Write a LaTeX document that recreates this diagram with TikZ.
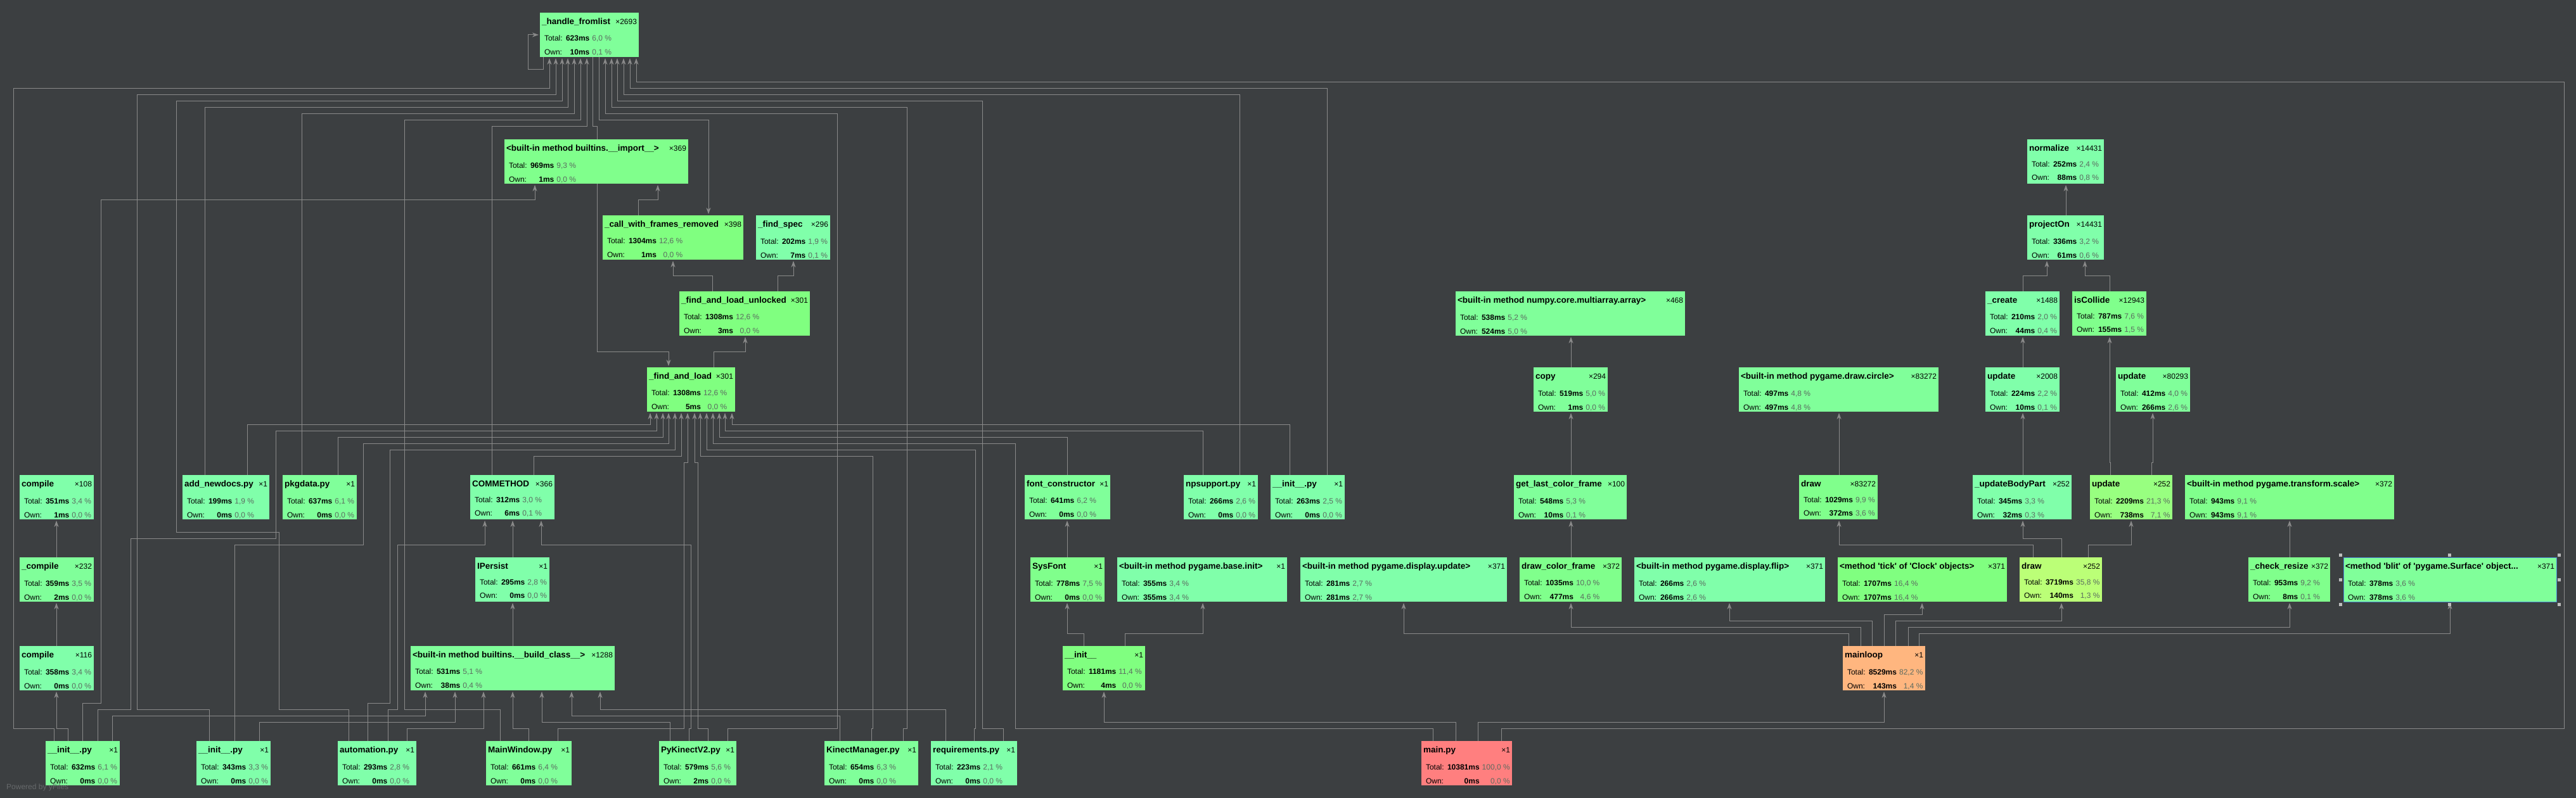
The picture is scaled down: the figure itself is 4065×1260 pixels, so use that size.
\documentclass[tikz,border=0pt]{standalone}
\usepackage{fontspec}
\setmainfont{Liberation Sans}
\usetikzlibrary{arrows.meta}
\definecolor{bgc}{HTML}{3C3F41}
\definecolor{wirec}{HTML}{8A8A8A}
\definecolor{pct}{HTML}{5B6B60}
\definecolor{gA}{HTML}{80FFAA}
\definecolor{gB}{HTML}{80FF9A}
\definecolor{gC}{HTML}{80FF8C}
\definecolor{gD}{HTML}{80FF80}
\definecolor{gE}{HTML}{98FF80}
\definecolor{gF}{HTML}{BBFF77}
\definecolor{hot}{HTML}{FFB67F}
\definecolor{root}{HTML}{FF7F7F}
\definecolor{selc}{HTML}{4A88D0}
\definecolor{handlec}{HTML}{BDBDBD}
\definecolor{markc}{HTML}{66696B}
\pgfdeclarelayer{canvas}
\pgfdeclarelayer{wires}
\pgfsetlayers{canvas,wires,main}

\newlength\vw \newlength\vwb \newlength\pw \newlength\pwb
\newcommand\titlef{\fontsize{13.5}{16}\selectfont\bfseries}
\newcommand\countf{\fontsize{12}{14}\selectfont}
\newcommand\statf{\fontsize{12}{14}\selectfont}
\newcommand\q{\textquotesingle}
% width, name, calls, total, total %, own, own %
\newcommand\fnbox[7]{%
  \settowidth\vw{\statf\bfseries #4ms}\settowidth\vwb{\statf\bfseries #6ms}%
  \ifdim\vwb>\vw \vw=\vwb\fi
  \settowidth\pw{\statf #5 \%}\settowidth\pwb{\statf #7 \%}%
  \ifdim\pwb>\pw \pw=\pwb\fi
  \vbox to 70pt{\offinterlineskip\hsize=#1pt
    \hbox to #1pt{\hspace{3pt}\rule{0pt}{18.5pt}{\titlef #2}\hfill{\countf ×#3}\hspace{3pt}}%
    \hbox{\hspace{7pt}\rule{0pt}{24.5pt}\statf\makebox[34pt][l]{Total:}\makebox[\vw][r]{\bfseries #4ms}\hspace{4pt}\makebox[\pw][r]{\color{pct}#5 \%}}%
    \hbox{\hspace{7pt}\rule[-7pt]{0pt}{27pt}\statf\makebox[34pt][l]{Own:}\makebox[\vw][r]{\bfseries #6ms}\hspace{4pt}\makebox[\pw][r]{\color{pct}#7 \%}}%
    \vss}}
\newcommand\call[5]{\draw[calls] (#1.north -| #2,0) -- (#2,#3) -- (#5,#3) -- (#4.south -| #5,0);}
\newcommand\callup[3]{\draw[calls] (#1.north -| #2,0) -- (#3.south -| #2,0);}

\begin{document}
\begin{tikzpicture}[x=1pt,y=-1pt,line join=round,
  fn/.style={anchor=north west,inner sep=0pt,outer sep=0pt,fill=#1},
  calls/.style={draw=wirec,line width=1pt,-{Stealth[length=10pt,width=7pt,inset=3pt]},shorten >=2pt}]
\begin{pgfonlayer}{canvas}
\fill[bgc] (0,0) rectangle (4065,1260);
\end{pgfonlayer}

\node[fn=gB] (hfl) at (852,20) {\fnbox{156}{\_handle\_fromlist}{2693}{623}{6,0}{10}{0,1}};
\node[fn=gC] (imp) at (796,220) {\fnbox{290}{<built-in method builtins.\_\_import\_\_>}{369}{969}{9,3}{1}{0,0}};
\node[fn=gD] (cwfr) at (951,340) {\fnbox{222}{\_call\_with\_frames\_removed}{398}{1304}{12,6}{1}{0,0}};
\node[fn=gA] (fspec) at (1193,340) {\fnbox{117}{\_find\_spec}{296}{202}{1,9}{7}{0,1}};
\node[fn=gD] (falu) at (1072,460) {\fnbox{206}{\_find\_and\_load\_unlocked}{301}{1308}{12,6}{3}{0,0}};
\node[fn=gD] (fal) at (1021,580) {\fnbox{139}{\_find\_and\_load}{301}{1308}{12,6}{5}{0,0}};
\node[fn=gA] (compileA) at (31,750) {\fnbox{117}{compile}{108}{351}{3,4}{1}{0,0}};
\node[fn=gA] (addnd) at (288,750) {\fnbox{137}{add\_newdocs.py}{1}{199}{1,9}{0}{0,0}};
\node[fn=gB] (pkg) at (446,750) {\fnbox{117}{pkgdata.py}{1}{637}{6,1}{0}{0,0}};
\node[fn=gA] (comm) at (742,750) {\fnbox{133}{COMMETHOD}{366}{312}{3,0}{6}{0,1}};
\node[fn=gB] (fontc) at (1617,750) {\fnbox{135}{font\_constructor}{1}{641}{6,2}{0}{0,0}};
\node[fn=gA] (nps) at (1868,750) {\fnbox{117}{npsupport.py}{1}{266}{2,6}{0}{0,0}};
\node[fn=gA] (init263) at (2005,750) {\fnbox{117}{\_\_init\_\_.py}{1}{263}{2,5}{0}{0,0}};
\node[fn=gB] (npa) at (2297,460) {\fnbox{362}{<built-in method numpy.core.multiarray.array>}{468}{538}{5,2}{524}{5,0}};
\node[fn=gB] (copy) at (2420,580) {\fnbox{117}{copy}{294}{519}{5,0}{1}{0,0}};
\node[fn=gB] (circle) at (2744,580) {\fnbox{315}{<built-in method pygame.draw.circle>}{83272}{497}{4,8}{497}{4,8}};
\node[fn=gB] (glcf) at (2389,750) {\fnbox{178}{get\_last\_color\_frame}{100}{548}{5,3}{10}{0,1}};
\node[fn=gC] (draw1) at (2839,750) {\fnbox{124}{draw}{83272}{1029}{9,9}{372}{3,6}};
\node[fn=gA] (normalize) at (3199,220) {\fnbox{121}{normalize}{14431}{252}{2,4}{88}{0,8}};
\node[fn=gA] (projon) at (3199,340) {\fnbox{121}{projectOn}{14431}{336}{3,2}{61}{0,6}};
\node[fn=gA] (create) at (3133,460) {\fnbox{117}{\_create}{1488}{210}{2,0}{44}{0,4}};
\node[fn=gC] (iscol) at (3270,460) {\fnbox{117}{isCollide}{12943}{787}{7,6}{155}{1,5}};
\node[fn=gA] (updA) at (3133,580) {\fnbox{117}{update}{2008}{224}{2,2}{10}{0,1}};
\node[fn=gB] (updB) at (3339,580) {\fnbox{117}{update}{80293}{412}{4,0}{266}{2,6}};
\node[fn=gA] (ubp) at (3113,750) {\fnbox{156}{\_updateBodyPart}{252}{345}{3,3}{32}{0,3}};
\node[fn=gE] (updC) at (3298,750) {\fnbox{130}{update}{252}{2209}{21,3}{738}{7,1}};
\node[fn=gC] (scale) at (3448,750) {\fnbox{330}{<built-in method pygame.transform.scale>}{372}{943}{9,1}{943}{9,1}};
\node[fn=gB] (compileB) at (31,880) {\fnbox{117}{\_compile}{232}{359}{3,5}{2}{0,0}};
\node[fn=gA] (compileC) at (31,1020) {\fnbox{117}{compile}{116}{358}{3,4}{0}{0,0}};
\node[fn=gA] (ipersist) at (750,880) {\fnbox{117}{IPersist}{1}{295}{2,8}{0}{0,0}};
\node[fn=gB] (bclass) at (648,1020) {\fnbox{322}{<built-in method builtins.\_\_build\_class\_\_>}{1288}{531}{5,1}{38}{0,4}};
\node[fn=gC] (sysfont) at (1626,880) {\fnbox{117}{SysFont}{1}{778}{7,5}{0}{0,0}};
\node[fn=gA] (pbinit) at (1763,880) {\fnbox{268}{<built-in method pygame.base.init>}{1}{355}{3,4}{355}{3,4}};
\node[fn=gA] (dupd) at (2052,880) {\fnbox{326}{<built-in method pygame.display.update>}{371}{281}{2,7}{281}{2,7}};
\node[fn=gC] (dcf) at (2398,880) {\fnbox{161}{draw\_color\_frame}{372}{1035}{10,0}{477}{4,6}};
\node[fn=gA] (flip) at (2579,880) {\fnbox{301}{<built-in method pygame.display.flip>}{371}{266}{2,6}{266}{2,6}};
\node[fn=gD] (tick) at (2900,880) {\fnbox{267}{<method \q tick\q{} of \q Clock\q{} objects>}{371}{1707}{16,4}{1707}{16,4}};
\node[fn=gF] (drawC) at (3187,880) {\fnbox{130}{draw}{252}{3719}{35,8}{140}{1,3}};
\node[fn=gC] (chk) at (3548,880) {\fnbox{129}{\_check\_resize}{372}{953}{9,2}{8}{0,1}};
\node[fn=gB,draw=selc,line width=1pt] (blit) at (3698,880) {\fnbox{336}{<method \q blit\q{} of \q pygame.Surface\q{} object...}{371}{378}{3,6}{378}{3,6}};
\node[fn=gD] (initA) at (1677,1020) {\fnbox{130}{\_\_init\_\_}{1}{1181}{11,4}{4}{0,0}};
\node[fn=hot] (mainloop) at (2908,1020) {\fnbox{130}{mainloop}{1}{8529}{82,2}{143}{1,4}};
\node[fn=gB] (init632) at (72,1170) {\fnbox{117}{\_\_init\_\_.py}{1}{632}{6,1}{0}{0,0}};
\node[fn=gA] (init343) at (310,1170) {\fnbox{117}{\_\_init\_\_.py}{1}{343}{3,3}{0}{0,0}};
\node[fn=gA] (autom) at (533,1170) {\fnbox{124}{automation.py}{1}{293}{2,8}{0}{0,0}};
\node[fn=gB] (mainw) at (767,1170) {\fnbox{135}{MainWindow.py}{1}{661}{6,4}{0}{0,0}};
\node[fn=gB] (pyk) at (1040,1170) {\fnbox{122}{PyKinectV2.py}{1}{579}{5,6}{2}{0,0}};
\node[fn=gB] (km) at (1301,1170) {\fnbox{148}{KinectManager.py}{1}{654}{6,3}{0}{0,0}};
\node[fn=gA] (req) at (1469,1170) {\fnbox{136}{requirements.py}{1}{223}{2,1}{0}{0,0}};
\node[fn=root] (mainpy) at (2243,1170) {\fnbox{143}{main.py}{1}{10381}{100,0}{0}{0,0}};
\node[anchor=west,inner sep=0pt,text=markc,font=\fontsize{12}{14}\selectfont] (yfiles) at (10,1243) {Powered by yFiles};

\foreach \hx/\hy in {3693/876,3865/876,4038/876,3693/915,4038/915,3693/954,3865/954,4038/954}
  \fill[handlec] (\hx-2.5,\hy-2.5) rectangle ++(5,5);

\begin{pgfonlayer}{wires}
\draw[calls] (hfl.south -| 857,0) -- (857,110) -- (833,110) -- (833,55) -- (hfl.west |- 0,55);
\draw[calls] (hfl.south -| 945,0) -- (945,190) -- (1118,190) -- (cwfr.north -| 1118,0);
\draw[calls] (hfl.south -| 935,0) -- (935,200) -- (942,200) -- (942,555) -- (1055,555) -- (fal.north -| 1055,0);
\call{fal}{1126}{555}{falu}{1176}
\call{falu}{1124}{435}{cwfr}{1062}
\call{falu}{1227}{435}{fspec}{1252}
\call{cwfr}{1007}{315}{imp}{1038}

\draw[calls] (init632.north -| 130,0) -- (130,1110) -- (159,1110) -- (159,315) -- (844,315) -- (imp.south -| 844,0);
\draw[calls] (init632.north -| 85,0) -- (85,1150) -- (21,1150) -- (21,140) -- (867,140) -- (hfl.south -| 867,0);
\call{init632}{107}{1150}{compileC}{89}
\draw[calls] (init632.north -| 154,0) -- (154,1120) -- (206,1120) -- (206,850) -- (435,850) -- (435,680) -- (1036,680) -- (fal.south -| 1036,0);
\call{init632}{177}{1130}{bclass}{671}
\callup{compileC}{89}{compileB}
\callup{compileB}{89}{compileA}

\draw[calls] (init343.north -| 330,0) -- (330,1120) -- (216,1120) -- (216,150) -- (877,150) -- (hfl.south -| 877,0);
\draw[calls] (init343.north -| 370,0) -- (370,860) -- (573,860) -- (573,700) -- (1055,700) -- (fal.south -| 1055,0);
\call{init343}{409}{1140}{bclass}{718}

\draw[calls] (autom.north -| 550,0) -- (550,1120) -- (440,1120) -- (440,840) -- (278,840) -- (278,160) -- (887,160) -- (hfl.south -| 887,0);
\draw[calls] (autom.north -| 580,0) -- (580,1110) -- (615,1110) -- (615,710) -- (1065,710) -- (fal.south -| 1065,0);
\draw[calls] (autom.north -| 612,0) -- (612,1120) -- (627,1120) -- (627,860) -- (765,860) -- (comm.south -| 765,0);
\call{autom}{642}{1150}{bclass}{763}

\call{addnd}{323}{170}{hfl}{896}
\call{addnd}{390}{670}{fal}{1026}
\call{pkg}{476}{180}{hfl}{906}
\call{pkg}{533}{690}{fal}{1046}
\call{comm}{776}{200}{hfl}{926}
\call{comm}{842}{720}{fal}{1075}
\callup{ipersist}{809}{comm}
\callup{bclass}{809}{ipersist}

\draw[calls] (mainw.north -| 789,0) -- (789,1120) -- (638,1120) -- (638,190) -- (916,190) -- (hfl.south -| 916,0);
\call{mainw}{834}{1150}{bclass}{809}
\draw[calls] (mainw.north -| 880,0) -- (880,1150) -- (1079,1150) -- (1079,730) -- (1085,730) -- (fal.south -| 1085,0);

\draw[calls] (pyk.north -| 1087,0) -- (1087,1150) -- (1090,1150) -- (1090,860) -- (854,860) -- (comm.south -| 854,0);
\call{pyk}{1057}{1140}{bclass}{855}
\draw[calls] (pyk.north -| 1117,0) -- (1117,1150) -- (1101,1150) -- (1101,730) -- (1096,730) -- (fal.south -| 1096,0);
\draw[calls] (pyk.north -| 1148,0) -- (1148,1150) -- (1321,1150) -- (1321,180) -- (955,180) -- (hfl.south -| 955,0);

\call{km}{1325}{1130}{bclass}{902}
\draw[calls] (km.north -| 1375,0) -- (1375,1150) -- (1377,1150) -- (1377,720) -- (1105,720) -- (fal.south -| 1105,0);
\draw[calls] (km.north -| 1425,0) -- (1425,1150) -- (1431,1150) -- (1431,170) -- (965,170) -- (hfl.south -| 965,0);

\call{req}{1492}{1120}{bclass}{947}
\draw[calls] (req.north -| 1537,0) -- (1537,1150) -- (1539,1150) -- (1539,710) -- (1115,710) -- (fal.south -| 1115,0);
\draw[calls] (req.north -| 1583,0) -- (1583,1150) -- (1550,1150) -- (1550,160) -- (974,160) -- (hfl.south -| 974,0);

\call{fontc}{1684}{690}{fal}{1135}
\call{nps}{1898}{680}{fal}{1144}
\call{nps}{1956}{150}{hfl}{984}
\call{init263}{2035}{670}{fal}{1155}
\call{init263}{2094}{140}{hfl}{994}
\callup{sysfont}{1684}{fontc}
\call{initA}{1710}{1000}{sysfont}{1684}
\call{initA}{1775}{1000}{pbinit}{1898}

\draw[calls] (mainpy.north -| 2261,0) -- (2261,1150) -- (1602,1150) -- (1602,700) -- (1125,700) -- (fal.south -| 1125,0);
\call{mainpy}{2297}{1140}{initA}{1742}
\call{mainpy}{2332}{1140}{mainloop}{2973}
\draw[calls] (mainpy.north -| 2369,0) -- (2369,1150) -- (4046,1150) -- (4046,130) -- (1004,130) -- (hfl.south -| 1004,0);

\call{mainloop}{2917}{1000}{dupd}{2215}
\call{mainloop}{2936}{990}{dcf}{2479}
\call{mainloop}{2954}{980}{flip}{2729}
\call{mainloop}{2973}{970}{tick}{3033}
\call{mainloop}{2991}{980}{drawC}{3253}
\call{mainloop}{3011}{990}{chk}{3613}
\call{mainloop}{3028}{1000}{blit}{3866}
\callup{dcf}{2479}{glcf}
\callup{glcf}{2479}{copy}
\callup{copy}{2479}{npa}

\call{drawC}{3208}{860}{draw1}{2902}
\call{drawC}{3253}{850}{ubp}{3192}
\call{drawC}{3295}{860}{updC}{3363}
\callup{draw1}{2902}{circle}
\callup{ubp}{3192}{updA}
\callup{updA}{3192}{create}
\call{create}{3192}{435}{projon}{3230}
\call{iscol}{3329}{435}{projon}{3290}
\callup{projon}{3260}{normalize}
\call{updC}{3330}{730}{iscol}{3329}
\call{updC}{3395}{730}{updB}{3397}
\callup{chk}{3613}{scale}
\end{pgfonlayer}
\end{tikzpicture}
\end{document}
